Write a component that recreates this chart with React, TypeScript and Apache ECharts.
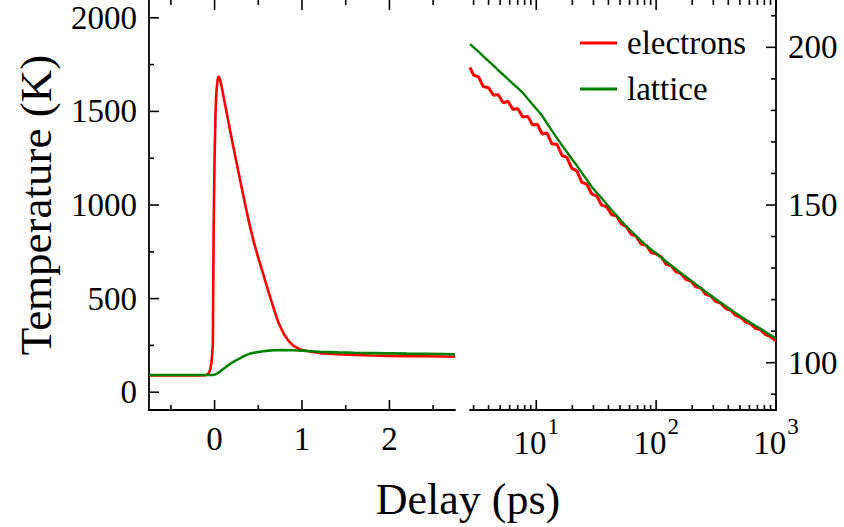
import React, { useEffect, useRef } from "react";
import * as echarts from "echarts";

const FONT = "Liberation Serif";

// ---- left panel (linear delay, ps) ----
const leftDelay = [-0.75, -0.5, -0.2, -0.1, -0.07, -0.05, -0.035, -0.02, -0.01, 0, 0.01, 0.02, 0.035, 0.047, 0.06, 0.08, 0.1, 0.15, 0.2, 0.25, 0.3, 0.34, 0.4, 0.45, 0.5, 0.56, 0.62, 0.68, 0.73, 0.79, 0.85, 0.9, 0.95, 1.0, 1.1, 1.2, 1.4, 1.6, 1.8, 2.0, 2.2, 2.4, 2.6, 2.75];
const leftElectrons = [90, 90, 90, 91, 98, 120, 160, 250, 900, 1250, 1480, 1600, 1670, 1688, 1675, 1635, 1585, 1465, 1345, 1230, 1115, 1025, 895, 800, 718, 625, 532, 442, 372, 312, 272, 249, 235, 226, 216, 209, 203, 199, 196, 194, 193, 192, 191, 190];
const leftLattice = [92, 92, 92, 92, 92, 92, 92, 92, 92.5, 94, 96, 98, 102, 106, 110, 117, 124, 142, 158, 171, 183, 194, 205, 211, 215, 219, 222, 224, 225, 225, 224.5, 224, 223, 222, 219, 216, 213, 210.5, 209, 207.5, 206, 205, 204, 203];

// ---- right panel (log delay, ps) ----
const rightDelay = [2.8, 3.0, 3.3, 3.6, 4.0, 4.4, 4.8, 5.3, 5.8, 6.4, 7.0, 7.7, 8.5, 9.3, 10.2, 11.2, 12.3, 13.5, 14.9, 16.4, 18, 19.8, 21.8, 24, 26.4, 29, 32, 35, 38.5, 42.5, 46.7, 51.4, 56.5, 62, 68, 75, 83, 91, 100, 110, 121, 133, 146, 161, 177, 195, 214, 236, 259, 285, 314, 345, 380, 418, 460, 506, 556, 612, 673, 740, 814, 895, 985, 1000];
const rightElectrons = [193.6, 191.2, 190.6, 187.6, 187.2, 184.8, 185.0, 182.4, 182.9, 180.3, 180.6, 177.9, 178.1, 175.4, 175.6, 172.5, 172.8, 169.4, 169.2, 165.7, 165.1, 161.6, 160.8, 157.2, 156.6, 153.5, 152.8, 150.0, 149.5, 146.9, 146.6, 143.9, 143.1, 140.7, 140.1, 137.6, 137.2, 134.9, 134.5, 133.6, 131.2, 130.8, 128.8, 128.3, 126.4, 125.9, 124.1, 123.7, 121.7, 121.2, 119.4, 118.9, 117.2, 116.7, 115.0, 114.4, 112.9, 112.4, 110.9, 110.5, 109.0, 108.3, 107.1, 107.2];
const rightLattice = [201, 200.0, 198.6, 197.2, 195.6, 194.2, 192.8, 191.3, 189.9, 188.4, 187.1, 185.6, 183.7, 181.9, 180.1, 178.3, 175.9, 173.6, 171.2, 168.9, 166.8, 164.6, 162.5, 160.2, 158.0, 155.8, 153.9, 152.2, 150.4, 148.4, 146.7, 144.9, 143.2, 141.7, 140.2, 138.6, 137.1, 135.9, 134.7, 133.4, 132.1, 130.9, 129.7, 128.4, 127.3, 126.1, 124.9, 123.7, 122.5, 121.4, 120.2, 119.1, 118.0, 116.9, 115.8, 114.7, 113.7, 112.7, 111.7, 110.8, 109.8, 108.8, 107.9, 107.8];

// ---- ticks ----
const leftXMajor = [0, 1, 2];
const leftXMinor = [-0.5, 0.5, 1.5, 2.5];
const leftYMajor = [0, 500, 1000, 1500, 2000];
const leftYMinor = [250, 750, 1250, 1750];
const rightXMajor = [10, 100, 1000];
const rightXMinor = [3, 4, 5, 6, 7, 8, 9, 20, 30, 40, 50, 60, 70, 80, 90, 200, 300, 400, 500, 600, 700, 800, 900];
const rightYMajor = [100, 150, 200];
const rightYMinor = [90, 110, 120, 130, 140, 160, 170, 180, 190, 210];

const LEFT_X = [-0.75, 2.75];
const LEFT_Y = [-95, 2095];
const RIGHT_X = [2.8, 1000];
const RIGHT_Y = [85, 215];

const RED = "#ff0000";
const GREEN = "#008000";

function tickSeries(xi: number, xr: number[], yr: number[], side: "left" | "right", xMaj: number[], xMin: number[], yMaj: number[], yMin: number[]) {
  const data: number[][] = [];
  xMaj.forEach((v) => data.push([v, (yr[0] + yr[1]) / 2, 1, 1]));
  xMin.forEach((v) => data.push([v, (yr[0] + yr[1]) / 2, 1, 0]));
  const xs = side === "left" ? xr[0] : xr[1];
  yMaj.forEach((v) => data.push([xs, v, 2, 1]));
  yMin.forEach((v) => data.push([xs, v, 2, 0]));
  const style = { stroke: "#000", lineWidth: 1.6 };
  return {
    type: "custom",
    xAxisIndex: xi,
    yAxisIndex: xi,
    clip: false,
    silent: true,
    z: 5,
    data,
    renderItem: (params: any, api: any) => {
      const kind = api.value(2);
      const major = api.value(3) === 1;
      const len = major ? 10 : 5;
      if (kind === 1) {
        const v = api.value(0);
        const b = api.coord([v, yr[0]]);
        const t = api.coord([v, yr[1]]);
        return {
          type: "group",
          children: [
            { type: "line", shape: { x1: b[0], y1: b[1], x2: b[0], y2: b[1] - len }, style },
            { type: "line", shape: { x1: t[0], y1: t[1], x2: t[0], y2: t[1] + len }, style },
          ],
        };
      }
      const p = api.coord([api.value(0), api.value(1)]);
      const dir = side === "left" ? 1 : -1;
      return { type: "line", shape: { x1: p[0], y1: p[1], x2: p[0] + dir * len, y2: p[1] }, style };
    },
  };
}

const labelBase = { color: "#000", fontSize: 33, fontFamily: FONT };
const axisLine = { show: true, onZero: false, lineStyle: { color: "#000", width: 1.8 } };

export default function App() {
  const ref = useRef<HTMLDivElement>(null);
  useEffect(() => {
    const chart = echarts.init(ref.current!, null, { renderer: "svg" });
    const sup: Record<number, string> = { 10: "1", 100: "2", 1000: "3" };
    const option: any = {
      animation: false,
      backgroundColor: "#fff",
      textStyle: { fontFamily: FONT },
      grid: [
        { left: 149, top: 0, width: 306, height: 410 },
        { left: 470, top: 0, width: 306, height: 410 },
      ],
      xAxis: [
        {
          type: "value", gridIndex: 0, min: LEFT_X[0], max: LEFT_X[1], splitNumber: 3,
          axisLine, axisTick: { show: false }, splitLine: { show: false },
          axisLabel: { ...labelBase, margin: 12, showMinLabel: false, showMaxLabel: false,
            formatter: (v: number) => (leftXMajor.includes(v) ? String(v) : "") },
        },
        {
          type: "log", gridIndex: 1, min: RIGHT_X[0], max: RIGHT_X[1], logBase: 10,
          axisLine, axisTick: { show: false }, splitLine: { show: false },
          axisLabel: {
            ...labelBase, margin: 5, showMinLabel: false, showMaxLabel: true,
            formatter: (v: number) => {
              const k = Math.round(v);
              return rightXMajor.includes(k) && Math.abs(v - k) < 1e-6 ? `{b|10}{s|${sup[k]}}` : "";
            },
            rich: {
              b: { fontSize: 33, fontFamily: FONT, color: "#000", lineHeight: 44, verticalAlign: "bottom" },
              s: { fontSize: 23, fontFamily: FONT, color: "#000", lineHeight: 44, verticalAlign: "top", padding: [0, 0, 0, 1] },
            },
          },
        },
      ],
      yAxis: [
        {
          type: "value", gridIndex: 0, min: LEFT_Y[0], max: LEFT_Y[1], splitNumber: 5, position: "left",
          axisLine, axisTick: { show: false }, splitLine: { show: false },
          axisLabel: { ...labelBase, margin: 12, showMinLabel: false, showMaxLabel: false,
            formatter: (v: number) => (leftYMajor.includes(v) ? String(v) : "") },
        },
        {
          type: "value", gridIndex: 1, min: RIGHT_Y[0], max: RIGHT_Y[1], splitNumber: 3, position: "right",
          axisLine, axisTick: { show: false }, splitLine: { show: false },
          axisLabel: { ...labelBase, margin: 12, showMinLabel: false, showMaxLabel: false,
            formatter: (v: number) => (rightYMajor.includes(v) ? String(v) : "") },
        },
      ],
      legend: {
        left: 575, top: 20, orient: "vertical", icon: "rect", itemWidth: 37, itemHeight: 3, itemGap: 10,
        data: ["electrons", "lattice"],
        textStyle: { color: "#000", fontSize: 33, fontFamily: FONT, lineHeight: 36, padding: [0, 0, 0, 5] },
      },
      series: [
        { name: "electrons", type: "line", xAxisIndex: 0, yAxisIndex: 0, showSymbol: false, symbol: "none",
          data: leftDelay.map((x, i) => [x, leftElectrons[i]]), lineStyle: { color: RED, width: 2.6 }, itemStyle: { color: RED }, z: 2 },
        { name: "lattice", type: "line", xAxisIndex: 0, yAxisIndex: 0, showSymbol: false, symbol: "none",
          data: leftDelay.map((x, i) => [x, leftLattice[i]]), lineStyle: { color: GREEN, width: 2.6 }, itemStyle: { color: GREEN }, z: 3 },
        { name: "electrons", type: "line", xAxisIndex: 1, yAxisIndex: 1, showSymbol: false, symbol: "none",
          data: rightDelay.map((x, i) => [x, rightElectrons[i]]), lineStyle: { color: RED, width: 3 }, itemStyle: { color: RED }, z: 2 },
        { name: "lattice", type: "line", xAxisIndex: 1, yAxisIndex: 1, showSymbol: false, symbol: "none",
          data: rightDelay.map((x, i) => [x, rightLattice[i]]), lineStyle: { color: GREEN, width: 2.4 }, itemStyle: { color: GREEN }, z: 3 },
        tickSeries(0, LEFT_X, LEFT_Y, "left", leftXMajor, leftXMinor, leftYMajor, leftYMinor),
        tickSeries(1, RIGHT_X, RIGHT_Y, "right", rightXMajor, rightXMinor, rightYMajor, rightYMinor),
      ],
      graphic: [
        { type: "text", x: 36, y: 205, rotation: Math.PI / 2, style: { text: "Temperature (K)", fill: "#000", fontSize: 45, fontFamily: FONT, align: "center", verticalAlign: "middle" } },
        { type: "text", x: 468, y: 499, style: { text: "Delay (ps)", fill: "#000", fontSize: 44, fontFamily: FONT, align: "center", verticalAlign: "middle" } },
      ],
    };
    chart.setOption(option);
    return () => chart.dispose();
  }, []);
  return <div ref={ref} style={{ position: "fixed", left: 0, top: 0, width: 844, height: 527 }} />;
}
